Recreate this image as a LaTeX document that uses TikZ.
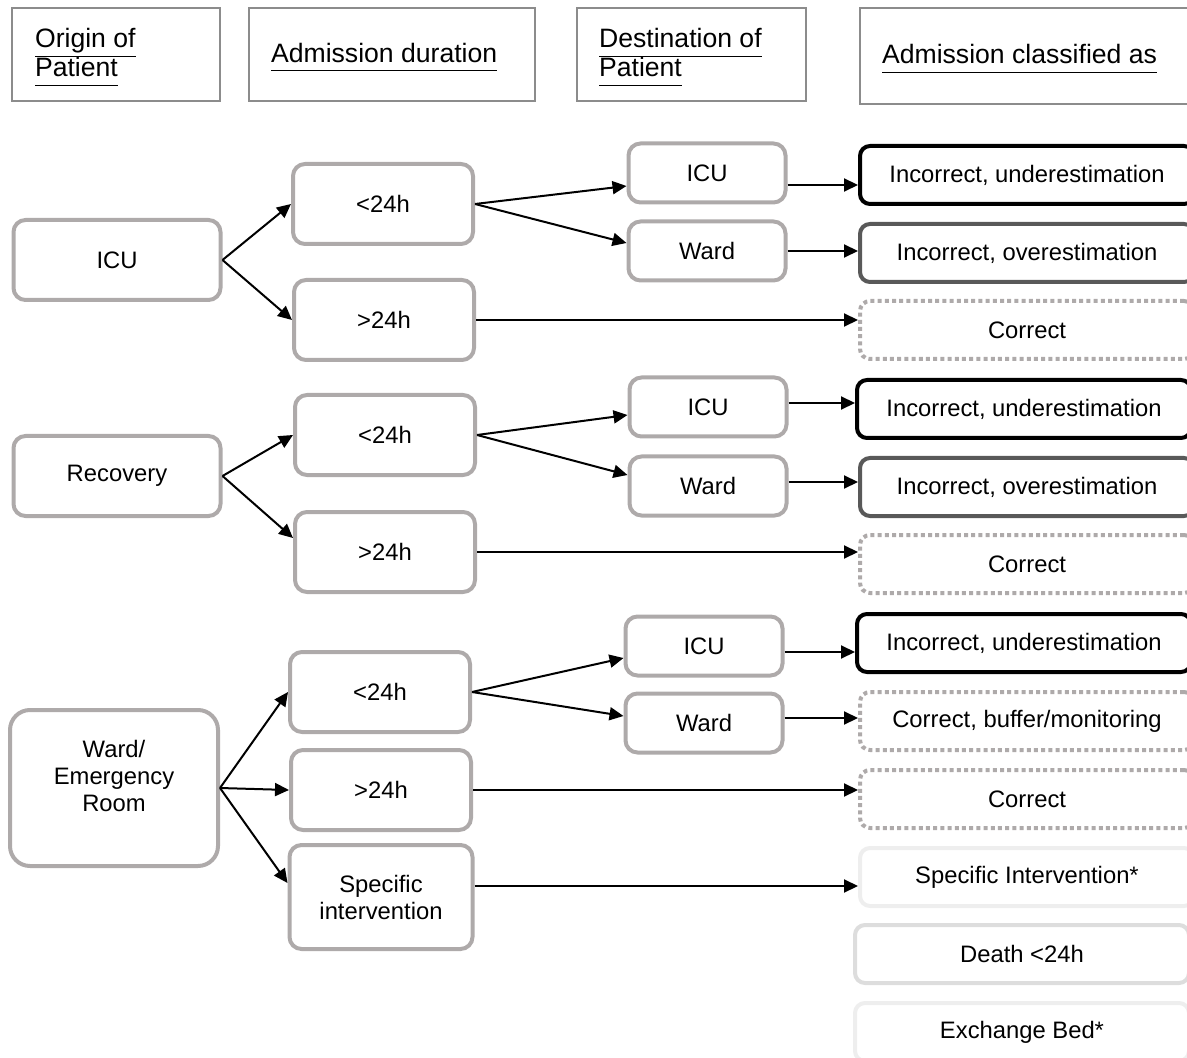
\documentclass[tikz,border=0pt]{standalone}
\usepackage{fontspec}
\setmainfont{Liberation Sans}
\usetikzlibrary{arrows.meta,positioning}

\definecolor{boxgray}{HTML}{AEAAAA}
\definecolor{headgray}{HTML}{8C8C8C}
\definecolor{overgray}{HTML}{595959}
\definecolor{palegray}{HTML}{EEEEEE}
\definecolor{softgray}{HTML}{DDDDDD}

\newcommand{\headul}[1]{\underline{#1\vphantom{g}}}

\tikzset{
	box/.style={draw=boxgray, line width=2pt, rounded corners=6pt, align=center, font=\fontsize{11.9}{13.5}\selectfont},
	origbox/.style={box, minimum width=103.5pt, minimum height=40pt},
	durbox/.style={box, minimum width=90pt, minimum height=40pt},
	destbox/.style={box, minimum width=78.5pt, minimum height=29.5pt},
	classbox/.style={box, rounded corners=5pt, minimum width=167pt, minimum height=29pt},
	under/.style={classbox, draw=black},
	over/.style={classbox, draw=overgray},
	okbox/.style={classbox, dash pattern=on 2pt off 1.6pt},
	pale/.style={classbox, draw=palegray},
	headbox/.style={draw=headgray, line width=1pt},
	headtext/.style={anchor=west, align=left, font=\fontsize{13.3}{14.5}\selectfont},
	arr/.style={-{Triangle[length=7pt,width=6.5pt]}, line width=1pt}
}

\begin{document}
\begin{tikzpicture}[x=0.5pt,y=-0.5pt]
	\useasboundingbox (0,0) rectangle (1187,1058);

	% column headers
	\node[headbox, minimum width=104pt, minimum height=46.5pt] (hdrorig) at (116,54.5) {};
	\node[headtext] (hdrorigtxt) at ([xshift=8.5pt,yshift=-1.5pt]hdrorig.west) {\headul{Origin of}\\\headul{Patient}};
	\node[headbox, minimum width=143pt, minimum height=46.5pt] (hdrdur) at (392,54.5) {};
	\node[headtext] (hdrdurtxt) at ([xshift=8pt,yshift=-1.5pt]hdrdur.west) {\headul{Admission duration}};
	\node[headbox, minimum width=114.5pt, minimum height=46.5pt] (hdrdest) at (691.5,54.5) {};
	\node[headtext] (hdrdesttxt) at ([xshift=8pt,yshift=-1.5pt]hdrdest.west) {\headul{Destination of}\\\headul{Patient}};
	\node[headbox, minimum width=170pt, minimum height=48pt] (hdrclass) at (1030,56) {};
	\node[headtext] (hdrclasstxt) at ([xshift=8pt,yshift=-1.5pt]hdrclass.west) {\headul{Admission classified as}};

	% origin
	\node[origbox] (oicu) at (117,260) {ICU};
	\node[origbox] (orec) at (117,476) {Recovery};
	\node[origbox, rounded corners=10pt, minimum width=104pt, minimum height=78pt,
		label={[align=center, font=\fontsize{11.9}{13.5}\selectfont, yshift=6pt]center:Ward/\\Emergency\\Room}] (oward) at (114,788) {};

	% duration
	\node[durbox] (iculess) at (383,204) {<24h};
	\node[durbox] (icumore) at (384,320) {>24h};
	\node[durbox] (recless) at (385,435) {<24h};
	\node[durbox] (recmore) at (385,552) {>24h};
	\node[durbox] (wardless) at (380,692) {<24h};
	\node[durbox] (wardmore) at (381,790) {>24h};
	\node[durbox, minimum width=91.5pt, minimum height=52pt] (wardspec) at (381,897) {Specific\\intervention};

	% destination
	\node[destbox] (icuicu) at (707,173) {ICU};
	\node[destbox] (icuward) at (707,251) {Ward};
	\node[destbox] (recicu) at (708,407) {ICU};
	\node[destbox] (recward) at (708,486) {Ward};
	\node[destbox] (wardicu) at (704,646) {ICU};
	\node[destbox] (wardward) at (704,723) {Ward};

	% classification
	\node[under] (ciu1) at (1027,175) {Incorrect, underestimation};
	\node[over] (cio1) at (1027,253) {Incorrect, overestimation};
	\node[okbox] (cok1) at (1027,330) {Correct};
	\node[under] (ciu2) at (1024,409) {Incorrect, underestimation};
	\node[over] (cio2) at (1027,487) {Incorrect, overestimation};
	\node[okbox] (cok2) at (1027,564) {Correct};
	\node[under] (ciu3) at (1024,643) {Incorrect, underestimation};
	\node[okbox] (cbuf) at (1027,721) {Correct, buffer/monitoring};
	\node[okbox] (cok3) at (1027,799) {Correct};
	\node[pale] (cspec) at (1027,877) {Specific Intervention*};
	\node[classbox, draw=softgray] (cdeath) at (1022,954) {Death <24h};
	\node[pale] (cbed) at (1022,1032) {Exchange Bed*};

	% ICU branch
	\draw[arr] (oicu.east) -- (iculess.west);
	\draw[arr] (oicu.east) -- (icumore.west);
	\draw[arr] (iculess.east) -- ([yshift=-6.5pt]icuicu.west);
	\draw[arr] (iculess.east) -- ([yshift=4pt]icuward.west);
	\draw[arr] ([yshift=-6pt]icuicu.east) -- ([yshift=-6pt]icuicu.east -| ciu1.west);
	\draw[arr] (icuward.east) -- (icuward.east -| cio1.west);
	\draw[arr] (icumore.east) -- (icumore.east -| cok1.west);

	% Recovery branch
	\draw[arr] (orec.east) -- (recless.west);
	\draw[arr] (orec.east) -- ([yshift=7pt]recmore.west);
	\draw[arr] (recless.east) -- ([yshift=-4pt]recicu.west);
	\draw[arr] (recless.east) -- ([yshift=5.5pt]recward.west);
	\draw[arr] ([yshift=2pt]recicu.east) -- ([yshift=2pt]recicu.east -| ciu2.west);
	\draw[arr] ([yshift=2pt]recward.east) -- ([yshift=2pt]recward.east -| cio2.west);
	\draw[arr] (recmore.east) -- (recmore.east -| cok2.west);

	% Ward/Emergency Room branch
	\draw[arr] (oward.east) -- (wardless.west);
	\draw[arr] (oward.east) -- (wardmore.west);
	\draw[arr] (oward.east) -- ([yshift=7pt]wardspec.west);
	\draw[arr] (wardless.east) -- ([yshift=-6pt]wardicu.west);
	\draw[arr] (wardless.east) -- ([yshift=3.5pt]wardward.west);
	\draw[arr] ([yshift=-3pt]wardicu.east) -- ([yshift=-3pt]wardicu.east -| ciu3.west);
	\draw[arr] ([yshift=2.5pt]wardward.east) -- ([yshift=2.5pt]wardward.east -| cbuf.west);
	\draw[arr] (wardmore.east) -- (wardmore.east -| cok3.west);
	\draw[arr] ([yshift=5.5pt]wardspec.east) -- ([yshift=5.5pt]wardspec.east -| cspec.west);
\end{tikzpicture}
\end{document}
